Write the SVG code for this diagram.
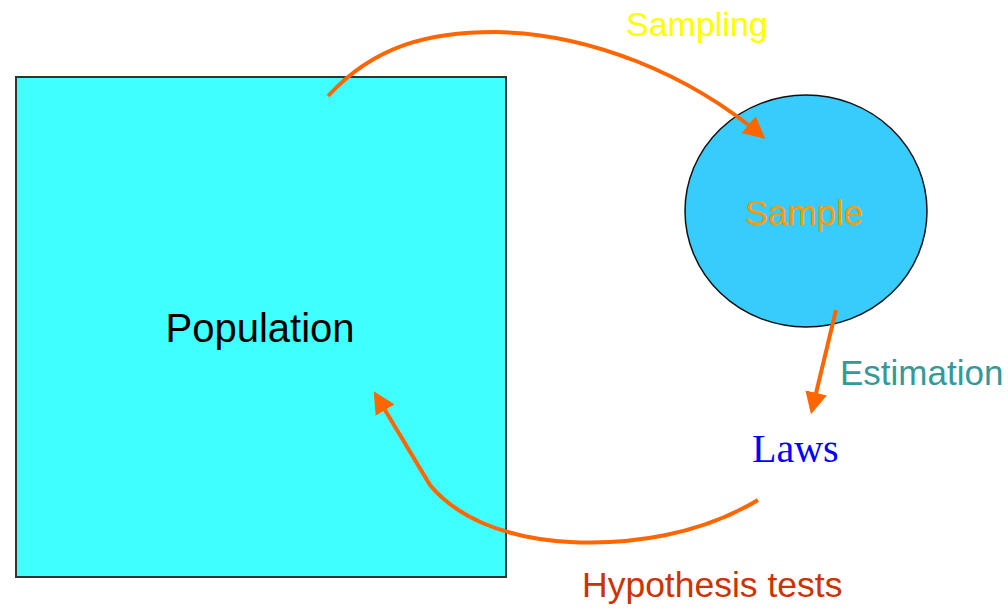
<svg xmlns="http://www.w3.org/2000/svg" width="1008" height="609" viewBox="0 0 1008 609">
<style>
.lbl{font-family:"Liberation Sans",Arial,sans-serif;}
.arrow{fill:none;stroke:#FF6600;stroke-width:4;stroke-linecap:butt;}
</style>
<defs>
<marker id="ah" viewBox="0 0 10 10" refX="8" refY="5" markerWidth="5.5" markerHeight="5.5" orient="auto" markerUnits="strokeWidth">
<path d="M0,0 L10,5 L0,10 z" fill="#FF6600"/>
</marker>
</defs>
<rect width="1008" height="609" fill="#fff"/>
<g id="population">
<rect x="16" y="77" width="490" height="500" fill="#40FFFF" stroke="#333" stroke-width="2"/>
<text class="lbl" x="260" y="342" font-size="40" text-anchor="middle" fill="#000">Population</text>
</g>
<g id="sample">
<ellipse cx="806" cy="211" rx="121" ry="116" fill="#38CCFC" stroke="#111" stroke-width="1.5"/>
<text class="lbl" x="804" y="225" font-size="35" text-anchor="middle" fill="#FF9900">Sample</text>
</g>
<g id="laws">
<text x="752" y="462" font-family="'Liberation Serif','Times New Roman',serif" font-size="40" fill="#0000FF">Laws</text>
</g>
<g id="connectors">
<path class="arrow" d="M328,96 C375,45 430,32 495,32 C590,33 690,75 762,136" marker-end="url(#ah)"/>
<path class="arrow" d="M836,310 L812,410" marker-end="url(#ah)"/>
<path class="arrow" d="M758,500 C700,535 630,545 570,542 C500,538 455,515 430,485 L376,395" marker-end="url(#ah)"/>
</g>
<g id="labels">
<text class="lbl" x="626" y="36" font-size="34" fill="#FFFF00">Sampling</text>
<text class="lbl" x="840" y="385" font-size="35" fill="#339999">Estimation</text>
<text class="lbl" x="582" y="597" font-size="35.5" fill="#CC3300">Hypothesis tests</text>
</g>
</svg>
